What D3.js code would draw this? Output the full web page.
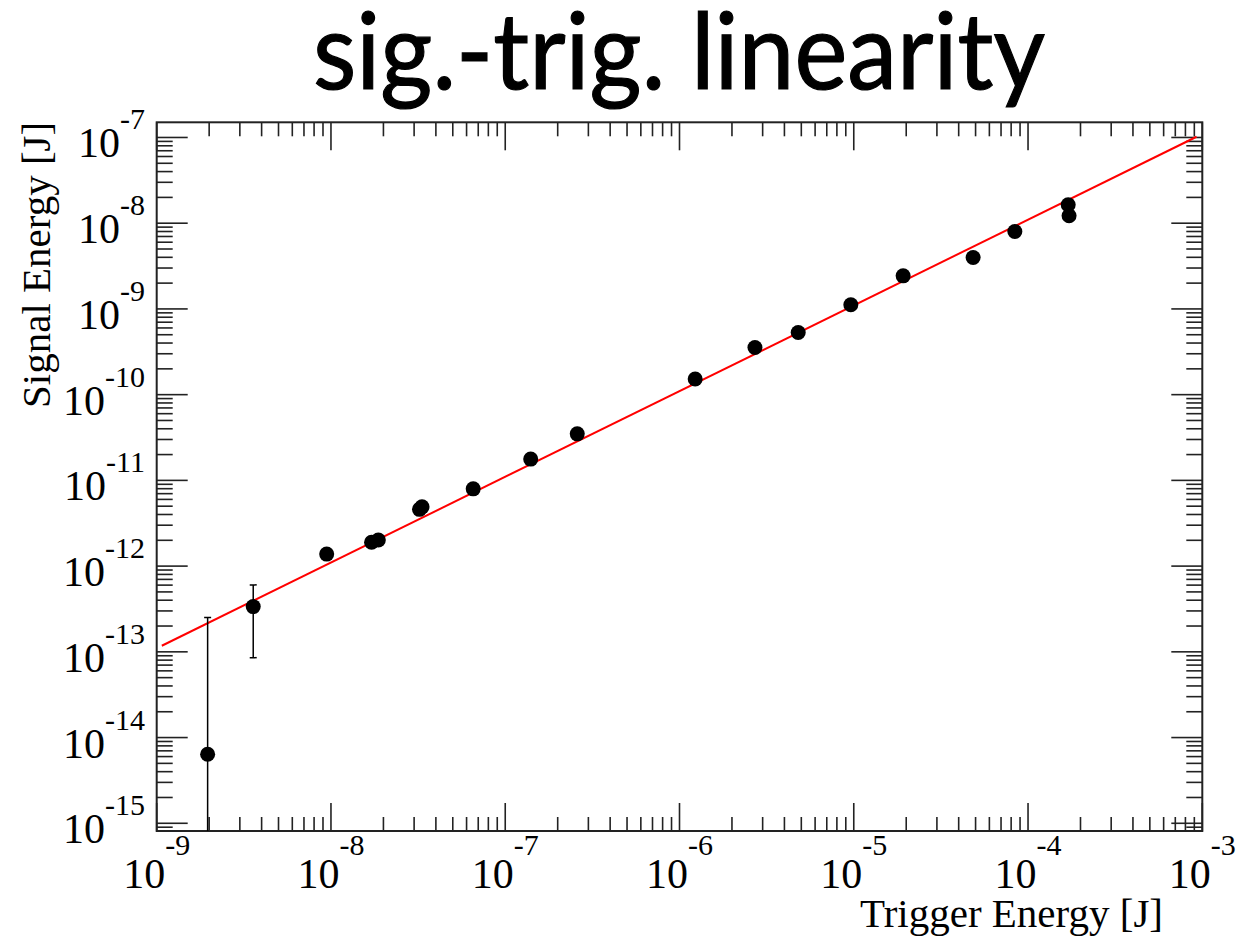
<!DOCTYPE html>
<html>
<head>
<meta charset="utf-8">
<script src="https://cdn.jsdelivr.net/npm/d3@7"></script>
<style>
  body { margin: 0; background: #fff; }
  svg { display: block; }
</style>
</head>
<body>
<svg id="chart" width="1252" height="945"></svg>
<script>
// trigger energy [J] (x) and signal energy [J] (y) of each point
var trigE = [1.96e-9, 3.58e-9, 9.45e-9, 1.71e-8, 1.87e-8, 3.22e-8, 3.33e-8, 6.55e-8,
             1.40e-7, 2.59e-7, 1.23e-6, 2.71e-6, 4.80e-6, 9.62e-6, 1.92e-5, 4.84e-5,
             8.40e-5, 1.70e-4, 1.72e-4];
var sigE  = [6.38e-15, 3.37e-13, 1.38e-12, 1.90e-12, 2.02e-12, 4.59e-12, 4.91e-12, 7.96e-12,
             1.77e-11, 3.49e-11, 1.52e-10, 3.55e-10, 5.31e-10, 1.12e-9, 2.43e-9, 3.98e-9,
             8.00e-9, 1.64e-8, 1.22e-8];
// error bars (only the two lowest points have visible ones)
var errIdx  = [0, 1];
var errLow  = [1e-16, 8.55e-14];
var errHigh = [2.51e-13, 6.04e-13];

// linear fit  sig = k * trig
var fitK = 1.10e-4;
var fitRange = [1.07e-9, 9.27e-4];

var xDomain = [1e-9, 1e-3];
var yDomain = [Math.pow(10, -15.09), Math.pow(10, -6.823)];

var svg = d3.select("#chart");

// frame edges (note: "top" is taken by window.top)
var pLeft = 156.7, pRight = 1202.3, pTop = 122.3, pBottom = 831;

var x = d3.scaleLog().domain(xDomain).range([pLeft, pRight]);
var y = d3.scaleLog().domain(yDomain).range([pBottom, pTop]);

function isMajor(d) {
    var l = Math.log10(d);
    return Math.abs(l - Math.round(l)) < 1e-6;
}

// title
var title = svg.append("text")
    .attr("x", 679)
    .attr("y", 89)
    .attr("text-anchor", "middle")
    .style("font-family", "Lato, 'Open Sans', sans-serif")
    .style("font-size", "107px")
    .style("fill", "#000")
    .style("stroke", "#000")
    .style("stroke-width", 1.2)
    .text("sig.-trig. linearity");
var tw = title.node().getComputedTextLength();
if (Math.abs(tw - 732) > 4) {
    title.attr("textLength", 732).attr("lengthAdjust", "spacingAndGlyphs");
}

svg.append("clipPath").attr("id", "plotclip")
    .append("rect")
    .attr("x", pLeft).attr("y", pTop)
    .attr("width", pRight - pLeft).attr("height", pBottom - pTop);

var g = svg.append("g");

// ticks on all four sides
var xt = x.ticks().filter(function(d) { return d >= xDomain[0] && d <= xDomain[1]; });
var yt = y.ticks().filter(function(d) { return d >= yDomain[0] && d <= yDomain[1]; });

var tickCol = "#222";

g.selectAll(".xtb").data(xt).enter().append("line")
    .attr("x1", function(d) { return x(d); })
    .attr("x2", function(d) { return x(d); })
    .attr("y1", pBottom)
    .attr("y2", function(d) { return pBottom - (isMajor(d) ? 28 : 14); })
    .style("stroke", tickCol).style("stroke-width", 1.6);

g.selectAll(".xtt").data(xt).enter().append("line")
    .attr("x1", function(d) { return x(d); })
    .attr("x2", function(d) { return x(d); })
    .attr("y1", pTop)
    .attr("y2", function(d) { return pTop + (isMajor(d) ? 28 : 14); })
    .style("stroke", tickCol).style("stroke-width", 1.6);

g.selectAll(".ytl").data(yt).enter().append("line")
    .attr("y1", function(d) { return y(d); })
    .attr("y2", function(d) { return y(d); })
    .attr("x1", pLeft)
    .attr("x2", function(d) { return pLeft + (isMajor(d) ? 31 : 16); })
    .style("stroke", tickCol).style("stroke-width", 1.6);

g.selectAll(".ytr").data(yt).enter().append("line")
    .attr("y1", function(d) { return y(d); })
    .attr("y2", function(d) { return y(d); })
    .attr("x1", pRight)
    .attr("x2", function(d) { return pRight - (isMajor(d) ? 31 : 16); })
    .style("stroke", tickCol).style("stroke-width", 1.6);

// frame
g.append("rect")
    .attr("x", pLeft).attr("y", pTop)
    .attr("width", pRight - pLeft).attr("height", pBottom - pTop)
    .style("fill", "none")
    .style("stroke", tickCol)
    .style("stroke-width", 2);

// tick labels 10^n
var serif = "'Liberation Serif', 'Times New Roman', serif";

var xl = svg.selectAll(".xl").data(xt.filter(isMajor)).enter().append("text")
    .attr("x", function(d) { return x(d); })
    .attr("y", 888)
    .attr("text-anchor", "middle")
    .style("font-family", serif)
    .style("fill", "#000");
xl.append("tspan").style("font-size", "42px").text("10");
xl.append("tspan").style("font-size", "30px").attr("dy", -33)
    .text(function(d) { return Math.round(Math.log10(d)); });

var yl = svg.selectAll(".yl").data(yt.filter(isMajor)).enter().append("text")
    .attr("x", 145)
    .attr("y", function(d) { return y(d) + 20; })
    .attr("text-anchor", "end")
    .style("font-family", serif)
    .style("fill", "#000");
yl.append("tspan").style("font-size", "42px").text("10");
yl.append("tspan").style("font-size", "30px").attr("dy", -28)
    .text(function(d) { return Math.round(Math.log10(d)); });

// axis titles
svg.append("text")
    .attr("x", 1163).attr("y", 927)
    .attr("text-anchor", "end")
    .style("font-family", serif)
    .style("font-size", "41px")
    .text("Trigger Energy [J]");

svg.append("text")
    .attr("transform", "translate(50,408) rotate(-90)")
    .attr("text-anchor", "start")
    .style("font-family", serif)
    .style("font-size", "41px")
    .text("Signal Energy [J]");

var plot = svg.append("g").attr("clip-path", "url(#plotclip)");

// fit line
plot.append("line")
    .attr("x1", x(fitRange[0])).attr("y1", y(fitK * fitRange[0]))
    .attr("x2", x(fitRange[1])).attr("y2", y(fitK * fitRange[1]))
    .style("stroke", "#ff0000")
    .style("stroke-width", 2);

// error bars
errIdx.forEach(function(i, k) {
    var px = x(trigE[i]);
    plot.append("line")
        .attr("x1", px).attr("x2", px)
        .attr("y1", y(errLow[k])).attr("y2", y(errHigh[k]))
        .style("stroke", "#000").style("stroke-width", 1.5);
    [errLow[k], errHigh[k]].forEach(function(v) {
        plot.append("line")
            .attr("x1", px - 3.5).attr("x2", px + 3.5)
            .attr("y1", y(v)).attr("y2", y(v))
            .style("stroke", "#000").style("stroke-width", 1.5);
    });
});

// points
plot.selectAll(".pt").data(trigE).enter().append("circle")
    .attr("cx", function(d) { return x(d); })
    .attr("cy", function(d, i) { return y(sigE[i]); })
    .attr("r", 7.5)
    .style("fill", "#000");
</script>
</body>
</html>
